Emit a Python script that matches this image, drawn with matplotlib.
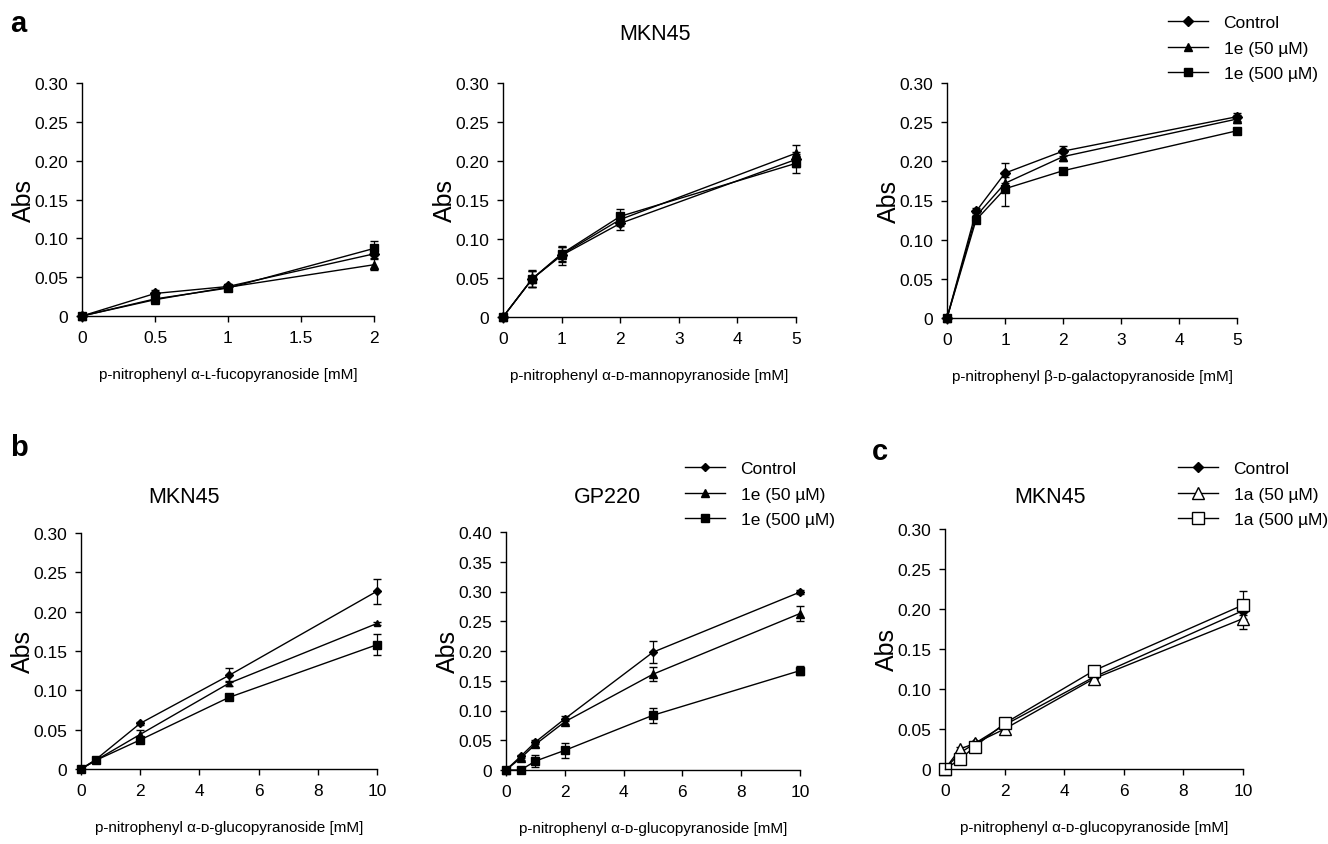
import numpy as np
import matplotlib
matplotlib.use("Agg")
import matplotlib.pyplot as plt

plt.rcParams['font.family'] = ['Liberation Sans', 'DejaVu Sans']

# panel a: MKN45, three substrates
x_fuc = [0, 0.5, 1, 2]
fuc_ctrl = [0, 0.029, 0.038, 0.080]
fuc_ctrl_err = [0.002, 0.005, 0.003, 0.005]
fuc_50 = [0, 0.021, 0.037, 0.066]
fuc_50_err = [0.002, 0.003, 0.003, 0.007]
fuc_500 = [0, 0.022, 0.036, 0.087]
fuc_500_err = [0.002, 0.003, 0.004, 0.009]

x_man = [0, 0.5, 1, 2, 5]
man_ctrl = [0, 0.049, 0.079, 0.120, 0.202]
man_ctrl_err = [0.002, 0.011, 0.012, 0.009, 0.010]
man_50 = [0, 0.049, 0.080, 0.125, 0.210]
man_50_err = [0.002, 0.010, 0.010, 0.008, 0.011]
man_500 = [0, 0.049, 0.081, 0.129, 0.197]
man_500_err = [0.002, 0.010, 0.009, 0.009, 0.012]

x_gal = [0, 0.5, 1, 2, 5]
gal_ctrl = [0, 0.136, 0.185, 0.213, 0.257]
gal_ctrl_err = [0.002, 0.004, 0.013, 0.006, 0.005]
gal_50 = [0, 0.130, 0.172, 0.206, 0.254]
gal_50_err = [0.002, 0.004, 0.008, 0.005, 0.005]
gal_500 = [0, 0.125, 0.165, 0.188, 0.239]
gal_500_err = [0.002, 0.004, 0.022, 0.004, 0.004]

# panel b: glucopyranoside, MKN45 and GP220
x_glc_mkn = [0, 0.5, 2, 5, 10]
mkn_ctrl = [0, 0.012, 0.058, 0.119, 0.226]
mkn_ctrl_err = [0.001, 0.002, 0.002, 0.009, 0.016]
mkn_50 = [0, 0.011, 0.044, 0.109, 0.185]
mkn_50_err = [0.001, 0.002, 0.006, 0.003, 0.002]
mkn_500 = [0, 0.011, 0.037, 0.091, 0.158]
mkn_500_err = [0.001, 0.002, 0.004, 0.003, 0.013]

x_glc_gp = [0, 0.5, 1, 2, 5, 10]
gp_ctrl = [0, 0.023, 0.047, 0.086, 0.198, 0.299]
gp_ctrl_err = [0.001, 0.003, 0.004, 0.004, 0.018, 0.004]
gp_50 = [0, 0.020, 0.043, 0.081, 0.161, 0.263]
gp_50_err = [0.001, 0.003, 0.004, 0.004, 0.012, 0.013]
gp_500 = [0, 0.0, 0.015, 0.033, 0.092, 0.167]
gp_500_err = [0.001, 0.001, 0.010, 0.012, 0.013, 0.007]

# panel c: MKN45 with 1a
x_c = [0, 0.5, 1, 2, 5, 10]
c_ctrl = [0, 0.020, 0.032, 0.055, 0.115, 0.198]
c_ctrl_err = [0.001, 0.002, 0.002, 0.003, 0.003, 0.005]
c_50 = [0, 0.025, 0.032, 0.050, 0.113, 0.188]
c_50_err = [0.001, 0.002, 0.002, 0.003, 0.003, 0.013]
c_500 = [0, 0.012, 0.028, 0.057, 0.123, 0.205]
c_500_err = [0.001, 0.002, 0.002, 0.003, 0.003, 0.017]

labels_e = ['Control', '1e (50 \u00b5M)', '1e (500 \u00b5M)']
labels_a = ['Control', '1a (50 \u00b5M)', '1a (500 \u00b5M)']

W, H = 1328, 845
fig = plt.figure(figsize=(W / 100, H / 100), dpi=100)


def px_axes(l, t, r, b):
    return fig.add_axes([l / W, 1 - b / H, (r - l) / W, (b - t) / H])


def style(ax, xmax, xticks, xtl, ymax, xlabel):
    ax.set_xlim(0, xmax)
    ax.set_ylim(0, ymax)
    ax.set_xticks(xticks)
    ax.set_xticklabels(xtl)
    yt = np.arange(0, ymax + 1e-9, 0.05)
    ax.set_yticks(yt)
    ax.set_yticklabels(['0'] + ['%.2f' % v for v in yt[1:]])
    for s in ['top', 'right']:
        ax.spines[s].set_visible(False)
    for s in ['left', 'bottom']:
        ax.spines[s].set_linewidth(1.0)
    ax.tick_params(direction='out', length=4, width=1, labelsize=12.5, pad=6)
    ax.set_ylabel('Abs', fontsize=18, labelpad=-1)
    ax.set_xlabel(xlabel, fontsize=11, labelpad=16)


def draw(ax, x, ys, errs, filled=True, ms=(5, 6, 5.5)):
    markers = ['D', '^', 's']
    handles = []
    for i, (y, e) in enumerate(zip(ys, errs)):
        fc = 'black' if (filled or i == 0) else 'white'
        size = ms[i] if (filled or i == 0) else 8
        h = ax.errorbar(x, y, yerr=e, color='black', lw=1.0, marker=markers[i],
                        ms=size, mfc=fc, mec='black', mew=1.0,
                        capsize=3, elinewidth=0.9, capthick=0.9, clip_on=False)
        handles.append(h)
    return handles


ax1 = px_axes(82, 84, 374, 317)
draw(ax1, x_fuc, [fuc_ctrl, fuc_50, fuc_500], [fuc_ctrl_err, fuc_50_err, fuc_500_err])
style(ax1, 2, [0, 0.5, 1, 1.5, 2], ['0', '0.5', '1', '1.5', '2'], 0.30,
      'p-nitrophenyl \u03b1-\u029f-fucopyranoside [mM]')

ax2 = px_axes(503, 84, 796, 318)
draw(ax2, x_man, [man_ctrl, man_50, man_500], [man_ctrl_err, man_50_err, man_500_err])
style(ax2, 5, range(6), [str(i) for i in range(6)], 0.30,
      'p-nitrophenyl \u03b1-\u1d05-mannopyranoside [mM]')

ax3 = px_axes(947, 84, 1237, 319)
h3 = draw(ax3, x_gal, [gal_ctrl, gal_50, gal_500], [gal_ctrl_err, gal_50_err, gal_500_err])
style(ax3, 5, range(6), [str(i) for i in range(6)], 0.30,
      'p-nitrophenyl \u03b2-\u1d05-galactopyranoside [mM]')

ax4 = px_axes(81, 534, 377, 770)
draw(ax4, x_glc_mkn, [mkn_ctrl, mkn_50, mkn_500], [mkn_ctrl_err, mkn_50_err, mkn_500_err],
     ms=(4, 5, 5.5))
style(ax4, 10, range(0, 11, 2), [str(i) for i in range(0, 11, 2)], 0.30,
      'p-nitrophenyl \u03b1-\u1d05-glucopyranoside [mM]')

ax5 = px_axes(506, 533, 800, 771)
h5 = draw(ax5, x_glc_gp, [gp_ctrl, gp_50, gp_500], [gp_ctrl_err, gp_50_err, gp_500_err],
          ms=(4, 5.5, 5.5))
style(ax5, 10, range(0, 11, 2), [str(i) for i in range(0, 11, 2)], 0.40,
      'p-nitrophenyl \u03b1-\u1d05-glucopyranoside [mM]')

ax6 = px_axes(945, 530, 1243, 770)
h6 = draw(ax6, x_c, [c_ctrl, c_50, c_500], [c_ctrl_err, c_50_err, c_500_err], filled=False)
style(ax6, 10, range(0, 11, 2), [str(i) for i in range(0, 11, 2)], 0.30,
      'p-nitrophenyl \u03b1-\u1d05-glucopyranoside [mM]')


def legend(ax, handles, labels, x, y):
    lines = [h[0] for h in handles]
    ax.legend(lines, labels, loc='upper left', bbox_to_anchor=(x / W, 1 - y / H),
              bbox_transform=fig.transFigure, frameon=False, fontsize=12.5,
              handlelength=2.3, handletextpad=0.9, labelspacing=0.6,
              borderpad=0, borderaxespad=0)


legend(ax3, h3, labels_e, 1168, 16)
legend(ax5, h5, labels_e, 685, 462)
legend(ax6, h6, labels_a, 1178, 462)

# titles and panel letters
fig.text(655 / W, 1 - 34 / H, 'MKN45', fontsize=15.5, ha='center', va='center')
fig.text(184 / W, 1 - 498 / H, 'MKN45', fontsize=15.5, ha='center', va='center')
fig.text(607 / W, 1 - 498 / H, 'GP220', fontsize=15.5, ha='center', va='center')
fig.text(1050 / W, 1 - 498 / H, 'MKN45', fontsize=15.5, ha='center', va='center')
fig.text(10 / W, 1 - 24 / H, 'a', fontsize=21, fontweight='bold', va='center')
fig.text(10 / W, 1 - 448 / H, 'b', fontsize=21, fontweight='bold', va='center')
fig.text(872 / W, 1 - 452 / H, 'c', fontsize=21, fontweight='bold', va='center')

fig.savefig('out.png', dpi=100)
